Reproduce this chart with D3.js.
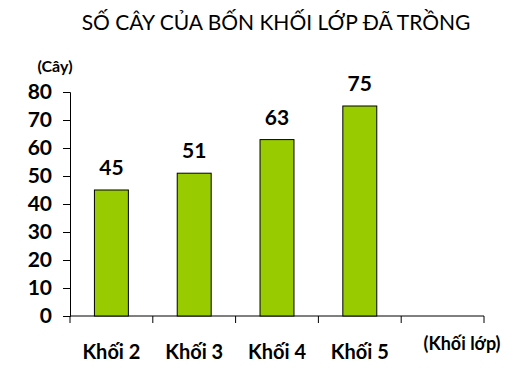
<!DOCTYPE html>
<html>
<head>
<meta charset="utf-8">
<script src="https://cdn.jsdelivr.net/npm/d3@7"></script>
<style>
  body { margin: 0; background: #fff; }
  text { font-family: Lato, "Open Sans", sans-serif; }
</style>
</head>
<body>
<svg id="chart" width="514" height="369"></svg>
<script>
const categories = ["Khối 2", "Khối 3", "Khối 4", "Khối 5"];
const values = [45, 51, 63, 75];
const yTicks = [0, 10, 20, 30, 40, 50, 60, 70, 80];

const svg = d3.select("#chart");
const plotLeft = 70, plotRight = 484, plotTop = 92, plotBottom = 316;

// one extra empty slot at the end, like the original
const slots = categories.concat([""]);
const x = d3.scaleBand()
    .domain(slots)
    .range([plotLeft, plotRight])
    .paddingInner(0.59)
    .paddingOuter(0.295);

const y = d3.scaleLinear()
    .domain([0, 80])
    .range([plotBottom, plotTop]);

svg.append("text")
    .attr("x", 276)
    .attr("y", 30)
    .attr("text-anchor", "middle")
    .attr("font-size", 21)
    .text("SỐ CÂY CỦA BỐN KHỐI LỚP ĐÃ TRỒNG");

svg.append("text")
    .attr("x", 55)
    .attr("y", 72)
    .attr("text-anchor", "middle")
    .attr("font-size", 16)
    .attr("font-weight", "bold")
    .text("(Cây)");

// y axis
const yAxis = svg.append("g")
    .attr("transform", `translate(${plotLeft},0)`)
    .call(d3.axisLeft(y).tickValues(yTicks).tickSize(7).tickPadding(11));
yAxis.selectAll("text")
    .attr("font-size", 21)
    .attr("font-weight", "bold")
    .attr("fill", "#000");
yAxis.selectAll("line, path").attr("stroke", "#000");

// x axis line + ticks at slot boundaries
const step = x.step();
const bounds = d3.range(slots.length + 1).map(i => plotLeft + i * step);
const xg = svg.append("g");
xg.append("line")
    .attr("x1", plotLeft).attr("x2", plotRight)
    .attr("y1", plotBottom).attr("y2", plotBottom)
    .attr("stroke", "#000");
xg.selectAll(".tick")
    .data(bounds)
    .enter()
    .append("line")
    .attr("x1", d => d).attr("x2", d => d)
    .attr("y1", plotBottom).attr("y2", plotBottom + 7)
    .attr("stroke", "#000");

svg.selectAll(".bar")
    .data(values)
    .enter()
    .append("rect")
    .attr("class", "bar")
    .attr("x", (d, i) => x(categories[i]))
    .attr("y", d => y(d))
    .attr("width", x.bandwidth())
    .attr("height", d => plotBottom - y(d))
    .attr("fill", "#99CC00")
    .attr("stroke", "#000")
    .attr("stroke-width", 1);

svg.selectAll(".val")
    .data(values)
    .enter()
    .append("text")
    .attr("class", "val")
    .attr("x", (d, i) => x(categories[i]) + x.bandwidth() / 2)
    .attr("y", d => y(d) - 15)
    .attr("text-anchor", "middle")
    .attr("font-size", 21)
    .attr("font-weight", "bold")
    .text(d => d);

svg.selectAll(".cat")
    .data(categories)
    .enter()
    .append("text")
    .attr("class", "cat")
    .attr("x", d => x(d) + x.bandwidth() / 2)
    .attr("y", 359)
    .attr("text-anchor", "middle")
    .attr("font-size", 20)
    .attr("font-weight", "bold")
    .text(d => d);

svg.append("text")
    .attr("x", 462)
    .attr("y", 350)
    .attr("text-anchor", "middle")
    .attr("font-size", 18)
    .attr("font-weight", "bold")
    .text("(Khối lớp)");
</script>
</body>
</html>
